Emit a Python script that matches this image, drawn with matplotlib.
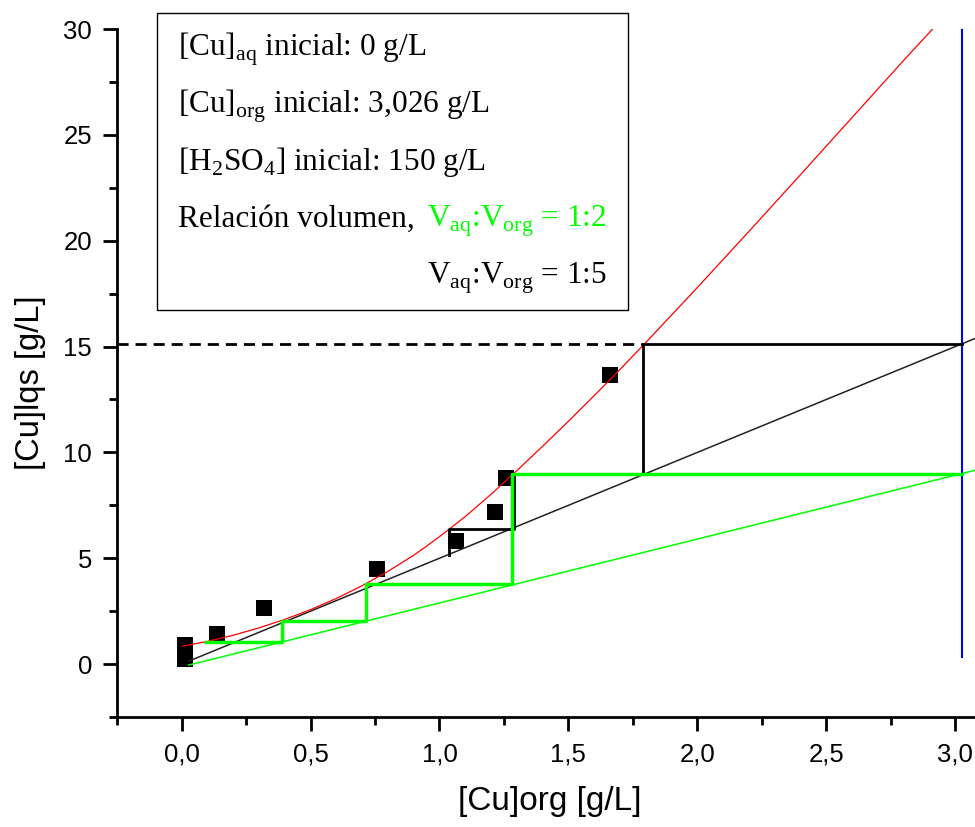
import matplotlib
matplotlib.use('Agg')
import matplotlib.pyplot as plt
from matplotlib.patches import Rectangle
from matplotlib.ticker import MultipleLocator

# equilibrium points: [Cu]org vs [Cu]aq (g/L)
cu_org = [0.015, 0.015, 0.136, 0.32, 0.758, 1.063, 1.216, 1.257, 1.663]
cu_aq = [0.22, 0.91, 1.42, 2.63, 4.49, 5.83, 7.18, 8.77, 13.65]

# fitted equilibrium curve
curve_x = [0.005, 0.1, 0.2, 0.3, 0.4, 0.5, 0.6, 0.7, 0.8, 0.9, 0.95, 1.0, 1.05,
           1.1, 1.2, 1.3, 1.4, 1.5, 1.6, 1.7, 1.8, 2.0, 2.2, 2.4, 2.6, 2.8, 2.912]
curve_y = [0.85, 1.07, 1.36, 1.71, 2.11, 2.57, 3.10, 3.70, 4.38, 5.14, 5.57, 6.02,
           6.49, 6.97, 8.02, 9.14, 10.29, 11.47, 12.68, 13.92, 15.19, 17.79,
           20.44, 23.12, 25.82, 28.52, 30.0]

# operating lines (Vaq:Vorg = 1:5 black, 1:2 green)
op15_x = [0.03, 3.075]
op15_y = [0.15, 15.375]
op12_x = [0.028, 3.075]
op12_y = [-0.045, 9.15]

# McCabe-Thiele steps
steps15_x = [3.026, 1.79, 1.79, 1.29, 1.29, 1.037, 1.037]
steps15_y = [15.1, 15.1, 9.0, 9.0, 6.4, 6.4, 5.17]
steps12_x = [3.026, 1.283, 1.283, 0.715, 0.715, 0.39, 0.39, 0.095]
steps12_y = [9.0, 9.0, 3.78, 3.78, 2.03, 2.03, 1.05, 1.05]

cu_org_inicial = 3.026
inicial_y = [0.28, 30]
cu_aq_carga = 15.1

xticks = [0.0, 0.5, 1.0, 1.5, 2.0, 2.5, 3.0]
xtick_labels = ['0,0', '0,5', '1,0', '1,5', '2,0', '2,5', '3,0']
yticks = [0, 5, 10, 15, 20, 25, 30]
ytick_labels = ['0', '5', '10', '15', '20', '25', '30']

plt.rcParams['font.family'] = ['Liberation Sans', 'DejaVu Sans']

fig = plt.figure(figsize=(9.75, 8.27), dpi=100)
ax = fig.add_axes([0.1201, 0.133, 0.8795, 0.8319])
ax.set_xlim(-0.25, 3.075)
ax.set_ylim(-2.5, 30)

ax.plot(cu_org, cu_aq, 's', color='black', markersize=12, markeredgewidth=0, zorder=2)
ax.plot(op15_x, op15_y, color='#222222', lw=1.1, zorder=3)
ax.plot(op12_x, op12_y, color='#00ff00', lw=1.1, zorder=3)
ax.plot(curve_x, curve_y, color='#ff0000', lw=0.9, zorder=4)
ax.hlines(cu_aq_carga, -0.25, steps15_x[1], colors='black', lw=2,
          linestyles=(0, (4, 2.5)), zorder=5)
ax.plot(steps15_x, steps15_y, color='black', lw=2, zorder=5)
ax.plot(steps12_x, steps12_y, color='#00ff00', lw=2.5, zorder=6)
ax.vlines(cu_org_inicial, inicial_y[0], inicial_y[1], colors='#0000ff', lw=1.5, zorder=4)

ax.spines['top'].set_visible(False)
ax.spines['right'].set_visible(False)
for side in ['left', 'bottom']:
    ax.spines[side].set_linewidth(2)

ax.set_xticks(xticks)
ax.set_xticklabels(xtick_labels)
ax.set_yticks(yticks)
ax.set_yticklabels(ytick_labels)
ax.xaxis.set_minor_locator(MultipleLocator(0.25))
ax.yaxis.set_minor_locator(MultipleLocator(2.5))
ax.tick_params(which='major', direction='out', length=10, width=2, labelsize=18.5, pad=8)
ax.tick_params(which='minor', direction='out', length=5.5, width=2)

ax.set_xlabel('[Cu]org [g/L]', fontsize=24)
ax.set_ylabel('[Cu]lqs [g/L]', fontsize=23.5)
ax.xaxis.set_label_coords(0.505, -0.1)
ax.yaxis.set_label_coords(-0.083, 0.4855)

# info box
fig.add_artist(Rectangle((0.161, 0.6252), 0.483, 0.3591, transform=fig.transFigure,
                         facecolor='white', edgecolor='black', lw=1, zorder=10))
serif = dict(family='Liberation Serif', fontsize=22.5, va='baseline', zorder=11)
x0 = 178 / 975
x1 = 427 / 975
fig.text(x0, 1 - 56 / 827, r'[Cu]$_\mathregular{aq}$ inicial: 0 g/L', **serif)
fig.text(x0, 1 - 113 / 827, r'[Cu]$_\mathregular{org}$ inicial: 3,026 g/L', **serif)
fig.text(x0, 1 - 170 / 827, r'[H$_\mathregular{2}$SO$_\mathregular{4}$] inicial: 150 g/L', **serif)
fig.text(x0, 1 - 227 / 827, 'Relación volumen,', **serif)
fig.text(x1, 1 - 227 / 827, r'V$_\mathregular{aq}$:V$_\mathregular{org}$ = 1:2',
         color='#00ff00', **serif)
fig.text(x1, 1 - 284 / 827, r'V$_\mathregular{aq}$:V$_\mathregular{org}$ = 1:5', **serif)

plt.savefig('out.png', dpi=100)
